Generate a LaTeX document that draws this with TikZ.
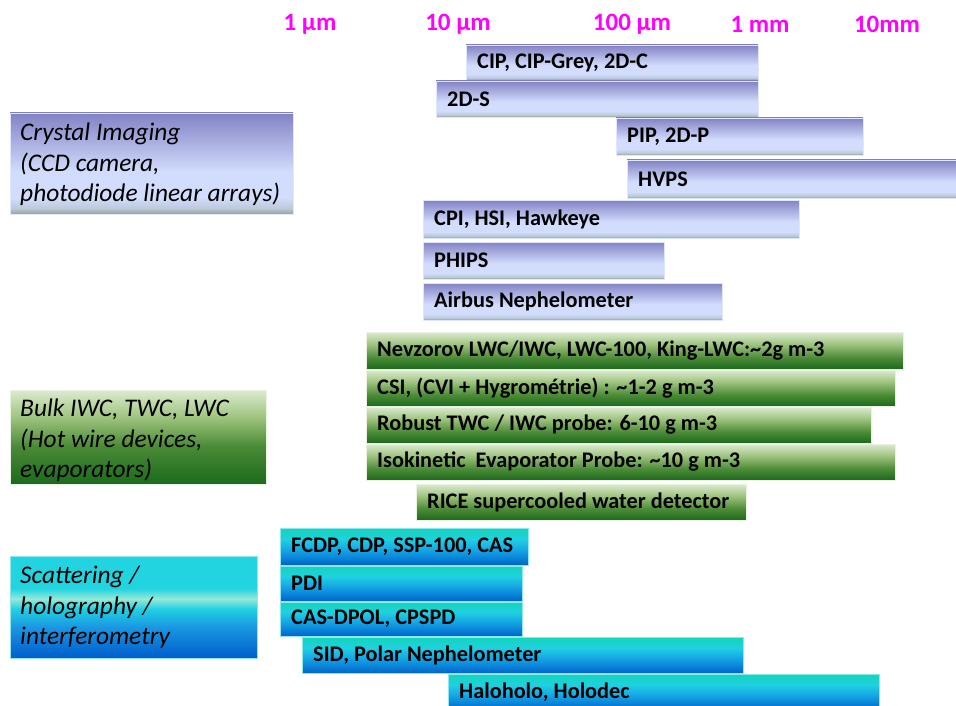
\documentclass[tikz,border=0pt]{standalone}
\usepackage{fontspec}
\setmainfont{Carlito}
\definecolor{cg1}{HTML}{92A892}
\definecolor{cg2}{HTML}{BCCADC}
\definecolor{cl}{HTML}{D2DCFC}
\definecolor{ct}{HTML}{8282C4}
\definecolor{gb}{HTML}{1C6A1C}
\definecolor{gm1}{HTML}{4A8A36}
\definecolor{gm2}{HTML}{9CC27C}
\definecolor{gt}{HTML}{DCEBD0}
\definecolor{bb}{HTML}{0064CC}
\definecolor{bm}{HTML}{14A4E4}
\definecolor{bc}{HTML}{20D0E2}
\definecolor{bt}{HTML}{12D6B8}
\definecolor{sb}{HTML}{005ECC}
\definecolor{sm}{HTML}{1A96E2}
\definecolor{sl}{HTML}{98E8D8}
\definecolor{sc}{HTML}{22D4E0}
\definecolor{magent}{HTML}{FF00FF}
\pgfdeclareverticalshading{crys}{100bp}{color(0bp)=(cg1); color(25bp)=(cg1); color(28bp)=(cg2); color(33bp)=(cl); color(46bp)=(cl); color(75bp)=(ct); color(100bp)=(ct)}
\pgfdeclareverticalshading{grn}{100bp}{color(0bp)=(gb); color(25bp)=(gb); color(40bp)=(gm1); color(58bp)=(gm2); color(75bp)=(gt); color(100bp)=(gt)}
\pgfdeclareverticalshading{blu}{100bp}{color(0bp)=(bb); color(25bp)=(bb); color(45bp)=(bm); color(60bp)=(bc); color(75bp)=(bt); color(100bp)=(bt)}
\pgfdeclareverticalshading{scat}{100bp}{color(0bp)=(sb); color(25bp)=(sb); color(40bp)=(sm); color(49bp)=(bc); color(54bp)=(sl); color(59bp)=(sc); color(75bp)=(sc); color(100bp)=(sc)}
\pgfdeclareverticalshading{bulk}{100bp}{color(0bp)=(gb); color(25bp)=(gb); color(45bp)=(gm1); color(60bp)=(gm2); color(75bp)=(gt); color(100bp)=(gt)}
\tikzset{
  crysbar/.style={shading=crys, draw=cl!70!white, line width=0.6pt},
  grnbar/.style={shading=grn, draw=gt!60!white, line width=0.6pt},
  blubar/.style={shading=blu, draw=bc!50!white, line width=0.6pt},
  bartext/.style={anchor=west, inner sep=0pt, xshift=11pt, font=\fontsize{22.3}{26}\selectfont\bfseries},
  cattext/.style={anchor=north west, inner sep=0pt, align=left, font=\fontsize{25.4}{30.5}\selectfont\itshape},
  ticklab/.style={inner sep=0pt, text=magent, font=\fontsize{25}{28}\selectfont\bfseries},
}
\newcommand\mybar[7]{%
  \path[#6] (#2,#3) rectangle (#4,#5);
  \node[bartext] (#1) at (#2,{(#3+#5)/2}) {#7};}
\begin{document}
\begin{tikzpicture}[x=1pt,y=-1pt]
\useasboundingbox (0,0) rectangle (956,706);
% tick labels
\node[ticklab] (t1) at (310,24) {1 µm};
\node[ticklab] (t2) at (458,24) {10 µm};
\node[ticklab] (t3) at (632,24) {100 µm};
\node[ticklab] (t4) at (760,24) {1 mm};
\node[ticklab] (t5) at (887,24) {10mm};
% category boxes
\path[shading=crys, draw=cl!70!white, line width=0.6pt] (10,113) rectangle (293,214);
\node[cattext] (catA) at (20,123) {Crystal Imaging\\(CCD camera,\\photodiode linear arrays)};
\path[shading=bulk, draw=gt!60!white, line width=0.6pt] (10,390) rectangle (266,484);
\node[cattext] (catB) at (20,399) {Bulk IWC, TWC, LWC\\(Hot wire devices,\\evaporators)};
\path[shading=scat, draw=bc!50!white, line width=0.6pt] (10,556) rectangle (257,658);
\node[cattext] (catC) at (20,566) {Scattering /\\holography /\\interferometry};
% crystal imaging bars
\mybar{b1}{466}{45}{758}{80}{crysbar}{CIP, CIP-Grey, 2D-C}
\mybar{b2}{436}{81}{758}{117}{crysbar}{2D-S}
\mybar{b3}{616}{118}{863}{155}{crysbar}{PIP, 2D-P}
\mybar{b4}{627}{160}{958}{198}{crysbar}{HVPS}
\mybar{b5}{423}{200}{799}{238}{crysbar}{CPI, HSI, Hawkeye}
\mybar{b6}{423}{242}{664}{279}{crysbar}{PHIPS}
\mybar{b7}{423}{283}{722}{320}{crysbar}{Airbus Nephelometer}
% bulk bars
\mybar{g1}{366}{332}{903}{369}{grnbar}{Nevzorov LWC/IWC, LWC-100, King-LWC:\textasciitilde 2g m-3}
\mybar{g2}{366}{370}{895}{406}{grnbar}{CSI, (CVI + Hygrométrie) : \textasciitilde 1-2 g m-3}
\mybar{g3}{366}{407}{871}{443}{grnbar}{Robust TWC / IWC probe: 6-10 g m-3}
\mybar{g4}{366}{444}{895}{480}{grnbar}{Isokinetic\ \ Evaporator Probe: \textasciitilde 10 g m-3}
\mybar{g5}{416}{484}{746}{520}{grnbar}{RICE supercooled water detector}
% scattering bars
\mybar{s1}{280}{528}{528}{565}{blubar}{FCDP, CDP, SSP-100, CAS}
\mybar{s2}{280}{566}{522}{601}{blubar}{PDI}
\mybar{s3}{280}{602}{522}{636}{blubar}{CAS-DPOL, CPSPD}
\mybar{s4}{302}{637}{743}{673}{blubar}{SID, Polar Nephelometer}
\mybar{s5}{448}{674}{879}{710}{blubar}{Haloholo, Holodec}
\end{tikzpicture}
\end{document}
